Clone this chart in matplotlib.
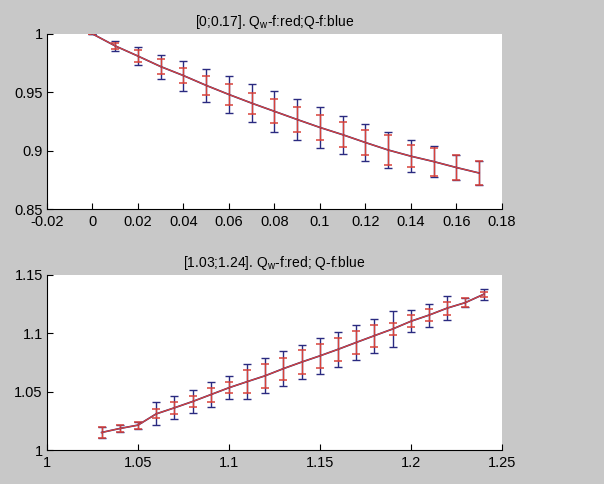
import matplotlib
matplotlib.use("Agg")
import matplotlib.pyplot as plt
import numpy as np

plt.rcParams['font.family'] = ['Liberation Sans', 'DejaVu Sans']

# ---- top panel data ----
x1 = [0.00, 0.01, 0.02, 0.03, 0.04, 0.05, 0.06, 0.07, 0.08, 0.09,
      0.10, 0.11, 0.12, 0.13, 0.14, 0.15, 0.16, 0.17]
y1 = [1.000, 0.9897, 0.981, 0.972, 0.9643, 0.9559, 0.9481, 0.9407, 0.9337, 0.9267,
      0.9199, 0.9137, 0.907, 0.9006, 0.8953, 0.8907, 0.8856, 0.8809]
err1_blue = [0.0, 0.004, 0.0077, 0.0103, 0.0129, 0.0139, 0.0156, 0.0164, 0.0174, 0.0173,
             0.0176, 0.0163, 0.0161, 0.0151, 0.0139, 0.0133, 0.011, 0.0106]
err1_red = [0.0, 0.0023, 0.0049, 0.0063, 0.0067, 0.0079, 0.0089, 0.009, 0.0104, 0.0103,
            0.0104, 0.0109, 0.0111, 0.0127, 0.0096, 0.012, 0.011, 0.0106]

# ---- bottom panel data ----
x2 = [1.03, 1.04, 1.05, 1.06, 1.07, 1.08, 1.09, 1.10, 1.11, 1.12, 1.13,
      1.14, 1.15, 1.16, 1.17, 1.18, 1.19, 1.20, 1.21, 1.22, 1.23, 1.24]
y2 = [1.0151, 1.0185, 1.0214, 1.031, 1.0362, 1.0416, 1.0475, 1.0534, 1.0586, 1.0637, 1.0698,
      1.0754, 1.0807, 1.0863, 1.0922, 1.098, 1.1037, 1.1103, 1.1156, 1.1216, 1.1263, 1.1334]
err2_blue = [0.0043, 0.0026, 0.0029, 0.0098, 0.0098, 0.010, 0.0104, 0.010, 0.0152, 0.015, 0.0148,
             0.0149, 0.0152, 0.0148, 0.0152, 0.0146, 0.0151, 0.0096, 0.0098, 0.0101, 0.0038, 0.0048]
err2_red = [0.0043, 0.0026, 0.0029, 0.0038, 0.0054, 0.0048, 0.0059, 0.0049, 0.010, 0.0104, 0.0094,
            0.0103, 0.0101, 0.0101, 0.010, 0.0093, 0.0052, 0.0052, 0.0054, 0.0055, 0.0038, 0.0022]

title1 = "[0;0.17]. Q$_\\mathregular{w}$-f:red;Q-f:blue"
title2 = "[1.03;1.24]. Q$_\\mathregular{w}$-f:red; Q-f:blue"

xt1 = [-0.02, 0, 0.02, 0.04, 0.06, 0.08, 0.1, 0.12, 0.14, 0.16, 0.18]
xtl1 = ["-0.02", "0", "0.02", "0.04", "0.06", "0.08", "0.1", "0.12", "0.14", "0.16", "0.18"]
yt1 = [0.85, 0.9, 0.95, 1.0]
ytl1 = ["0.85", "0.9", "0.95", "1"]
xt2 = [1.0, 1.05, 1.1, 1.15, 1.2, 1.25]
xtl2 = ["1", "1.05", "1.1", "1.15", "1.2", "1.25"]
yt2 = [1.0, 1.05, 1.1, 1.15]
ytl2 = ["1", "1.05", "1.1", "1.15"]

BG = '#c8c8c8'
BLUE = '#2a2a80'
RED = '#d8423a'

fig = plt.figure(figsize=(6.04, 4.84), dpi=100, facecolor=BG)
ax1 = fig.add_axes([0.0778, 0.568, 0.753, 0.362])
ax2 = fig.add_axes([0.0778, 0.070, 0.753, 0.362])


def draw(ax, x, y, eb, er, xt, xtl, yt, ytl, title):
    ax.errorbar(x, y, yerr=eb, color=BLUE, ecolor=BLUE, lw=1.2, elinewidth=1.0,
                capsize=3.2, capthick=1.0)
    ax.errorbar(x, y, yerr=er, color=RED, ecolor=RED, lw=0.9, elinewidth=1.0,
                capsize=3.2, capthick=1.1)
    ax.set_xlim(xt[0], xt[-1])
    ax.set_ylim(yt[0], yt[-1])
    ax.set_xticks(xt)
    ax.set_xticklabels(xtl)
    ax.set_yticks(yt)
    ax.set_yticklabels(ytl)
    for s in ['top', 'right']:
        ax.spines[s].set_visible(False)
    for s in ['left', 'bottom']:
        ax.spines[s].set_color('black')
        ax.spines[s].set_linewidth(0.8)
    ax.tick_params(direction='in', length=4, width=0.8, labelsize=10.5)
    ax.tick_params(axis='x', pad=4)
    ax.tick_params(axis='y', pad=3)
    ax.set_title(title, fontsize=10, pad=6)


draw(ax1, x1, y1, err1_blue, err1_red, xt1, xtl1, yt1, ytl1, title1)
draw(ax2, x2, y2, err2_blue, err2_red, xt2, xtl2, yt2, ytl2, title2)

fig.savefig("out.png", dpi=100, facecolor=BG)
